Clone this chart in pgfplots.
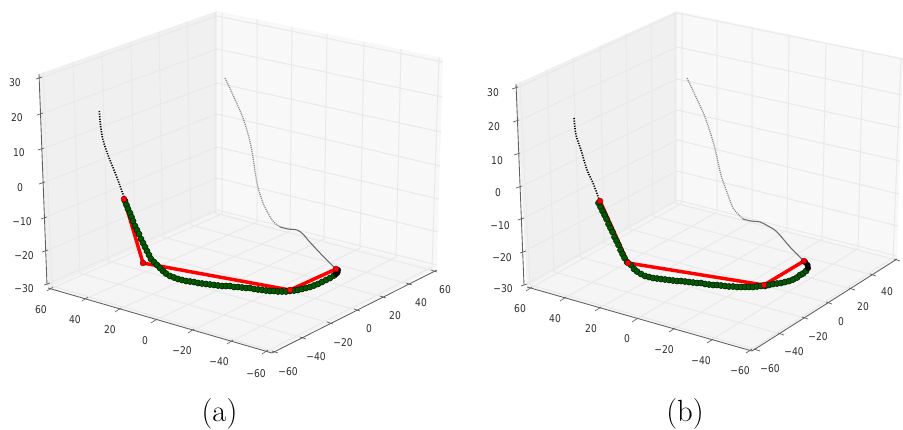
\documentclass[border=0pt]{standalone}
\usepackage{fontspec}
\usepackage{pgfplots}
\pgfplotsset{compat=1.18}
\newfontfamily\tickfont[FakeStretch=0.86]{DejaVu Sans}
\definecolor{paneL}{HTML}{F0F0F0}
\definecolor{paneR}{HTML}{F8F8F8}
\definecolor{paneF}{HTML}{F5F5F5}
\definecolor{gridc}{HTML}{E9E9E9}
\definecolor{axc}{HTML}{606060}
\definecolor{grn}{HTML}{005A00}
\tikzset{
  ticklab/.style={font=\tickfont\fontsize{8}{9}\selectfont,text=black!82,inner sep=0pt,anchor=center},
  subcap/.style={font=\fontsize{23}{26}\selectfont,inner sep=0pt,anchor=center},
}
\pgfplotsset{
  panel/.style={at={(0,0)},anchor=south west,scale only axis,width=677.25pt,height=321.75pt,
    xmin=0,xmax=903,ymin=0,ymax=429,y dir=reverse,axis lines=none,clip=false,unbounded coords=jump,
    every axis plot/.append style={no markers}},
  pane/.style={draw=none,forget plot},
  gl/.style={gridc,line width=0.75pt},
  axl/.style={axc,line width=0.65pt},
  tk/.style={axc,line width=0.5pt},
  grayd/.style={black!45,line width=0.95pt,dash pattern=on 0.8pt off 0.7pt,smooth},
  grays/.style={black!58,line width=0.8pt,smooth},
  blackd/.style={black,line width=1.2pt,dash pattern=on 0.9pt off 1pt,smooth},
  gm/.style={only marks,mark=*,mark size=2.3pt,mark options={fill=grn,draw=black!75!grn,line width=0.35pt}},
  km/.style={only marks,mark=*,mark size=2.1pt,mark options={fill=black!85!grn,draw=black,line width=0.3pt}},
  redl/.style={red,line width=2.6pt},
  redm/.style={only marks,mark=*,mark size=2.2pt,mark options={fill=red,draw=black!60!red,line width=0.3pt}},
}
\begin{document}
\begin{tikzpicture}
\useasboundingbox (0,0) rectangle (677.25pt,321.75pt);
% ---------------- panel (a)
\begin{axis}[panel]
\addplot[pane,fill=paneL] coordinates {(39,74) (217,11) (217,212) (48,288)} --cycle;
\addplot[pane,fill=paneR] coordinates {(217,11) (443,58) (437,268) (217,212)} --cycle;
\addplot[pane,fill=paneF] coordinates {(48,288) (217,212) (437,268) (272,353)} --cycle;
% left pane grid
\addplot[gl] coordinates {(43,72) (52,286) (nan,nan) (73,62) (80,273) (nan,nan) (102,52) (108,261) (nan,nan) (131,42) (135,250) (nan,nan) (159,32) (163,237) (nan,nan) (187,22) (191,225) (nan,nan) (215,12) (215,213)
 (nan,nan) (40,78) (217,16) (nan,nan) (41,114) (217,49) (nan,nan) (42,149) (217,83) (nan,nan) (43,183) (217,114) (nan,nan) (44,218) (217,147) (nan,nan) (46,251) (217,178) (nan,nan) (47,284) (217,210)};
% right pane grid
\addplot[gl] coordinates {(222,12) (222,214) (nan,nan) (257,19) (257,222) (nan,nan) (292,27) (290,231) (nan,nan) (327,34) (324,239) (nan,nan) (364,42) (360,248) (nan,nan) (401,49) (396,257) (nan,nan) (439,57) (432,267)
 (nan,nan) (217,16) (443,62) (nan,nan) (217,49) (442,97) (nan,nan) (217,83) (441,132) (nan,nan) (217,114) (440,166) (nan,nan) (217,147) (439,199) (nan,nan) (217,178) (438,232) (nan,nan) (217,210) (437,265)};
% floor grid
\addplot[gl] coordinates {(50,289) (222,214) (nan,nan) (85,299) (257,222) (nan,nan) (118,310) (290,231) (nan,nan) (154,321) (324,239) (nan,nan) (191,331) (360,248) (nan,nan) (230,342) (396,257) (nan,nan) (265,352) (432,267)
 (nan,nan) (275,352) (52,286) (nan,nan) (303,338) (80,273) (nan,nan) (330,323) (108,261) (nan,nan) (357,310) (135,250) (nan,nan) (383,297) (163,237) (nan,nan) (409,284) (191,225) (nan,nan) (434,271) (215,213)};
% axes
\addplot[axl] coordinates {(39,74) (47,285) (nan,nan) (48,288) (272,353) (437,270)};
\addplot[tk] coordinates {(36,79) (42,77) (nan,nan) (37,115) (43,113) (nan,nan) (38,150) (44,148) (nan,nan) (39,184) (45,182) (nan,nan) (41,219) (47,217) (nan,nan) (42,252) (48,250) (nan,nan) (44,285) (50,283)
 (nan,nan) (47,291) (53,287) (nan,nan) (82,301) (88,297) (nan,nan) (115,312) (121,308) (nan,nan) (151,323) (157,319) (nan,nan) (188,333) (194,329) (nan,nan) (227,344) (233,340) (nan,nan) (262,354) (268,350)
 (nan,nan) (272,351) (278,353) (nan,nan) (300,337) (306,339) (nan,nan) (327,322) (333,324) (nan,nan) (354,309) (360,311) (nan,nan) (380,296) (386,298) (nan,nan) (406,283) (412,285) (nan,nan) (431,270) (437,272)};
% trajectories
\addplot[grayd] coordinates {(225,78) (232,93) (243,118) (251,146) (257,183) (263,203) (268,213) (272,220) (276,224) (280,227)};
\addplot[grays] coordinates {(280,227) (288,229) (297,230) (303,234) (308,240) (320,253) (336,269)};
\addplot[blackd] coordinates {(99.3,111) (100.5,125) (103,140) (108,155) (114,170) (119,183) (124,197)};
\addplot[gm] coordinates {(125,201) (126.5,205) (128,209) (130,213) (131.5,217) (133,221) (135,226) (137,230) (139,234) (141,239) (143,243) (145,247) (147,251) (149,255) (151,259) (154,262) (157,265) (160,268) (163,271) (166,273.5) (170,276) (174,277.5) (178,279) (182,280) (186,281) (190,281.5) (194,282) (198,283) (202,283.5) (206,284) (210,284.5) (214,285) (218,285.5) (222,286) (226,286) (230,286) (234,287) (238,287) (242,287.5) (246,288) (250,288) (254,289) (258,289.5) (262,290) (266,290.5) (270,291) (274,291) (278,291.5) (282,291.5) (286,291.5) (290,291) (294,290.5) (298,290) (302,289) (306,288) (310,287) (314,285.5) (318,284) (322,282) (326,280) (330,278) (334,275.5)};
\addplot[km] coordinates {(336,274) (337.5,272.5) (338,270)};
\addplot[redl] coordinates {(124,199) (143,263) (290,290) (336,269)};
\addplot[redm] coordinates {(124,199) (143,263) (290,290) (336,269)};
% tick labels
\node[ticklab] at (axis cs:15,83) {30};
\node[ticklab] at (axis cs:17,118) {20};
\node[ticklab] at (axis cs:19,153) {10};
\node[ticklab] at (axis cs:20,188) {0};
\node[ticklab] at (axis cs:22,222) {−10};
\node[ticklab] at (axis cs:24,256) {−20};
\node[ticklab] at (axis cs:24,289) {−30};
\node[ticklab] at (axis cs:41,310) {60};
\node[ticklab] at (axis cs:75,320) {40};
\node[ticklab] at (axis cs:110,330) {20};
\node[ticklab] at (axis cs:145,341) {0};
\node[ticklab] at (axis cs:182,351) {−20};
\node[ticklab] at (axis cs:219,362) {−40};
\node[ticklab] at (axis cs:256,374) {−60};
\node[ticklab] at (axis cs:288,372) {−60};
\node[ticklab] at (axis cs:316,357) {−40};
\node[ticklab] at (axis cs:343,343) {−20};
\node[ticklab] at (axis cs:369,329) {0};
\node[ticklab] at (axis cs:395,316) {20};
\node[ticklab] at (axis cs:421,303) {40};
\node[ticklab] at (axis cs:445,290) {60};
\node[subcap] at (axis cs:219.5,414) {(a)};
\end{axis}
% ---------------- panel (b)
\begin{axis}[panel]
\addplot[pane,fill=paneL] coordinates {(516,84) (677,11) (677,202) (527,287)} --cycle;
\addplot[pane,fill=paneR] coordinates {(677,11) (903,58) (897,259) (677,202)} --cycle;
\addplot[pane,fill=paneF] coordinates {(527,287) (677,202) (897,259) (752,351)} --cycle;
% left pane grid
\addplot[gl] coordinates {(520,82) (530,285) (nan,nan) (547,70) (554,272) (nan,nan) (573,58) (580,257) (nan,nan) (600,46) (604,243) (nan,nan) (626,34) (629,229) (nan,nan) (651,23) (653,216) (nan,nan) (675,12) (675,203)
 (nan,nan) (517,88) (677,13) (nan,nan) (518,121) (677,47) (nan,nan) (519,154) (677,79) (nan,nan) (520,187) (677,110) (nan,nan) (522,219) (677,140) (nan,nan) (523,252) (677,171) (nan,nan) (525,285) (677,200)};
% right pane grid
\addplot[gl] coordinates {(682,12) (682,203) (nan,nan) (717,19) (717,212) (nan,nan) (752,27) (752,221) (nan,nan) (789,35) (787,230) (nan,nan) (826,43) (822,239) (nan,nan) (863,50) (858,248.5) (nan,nan) (901,58) (893,258)
 (nan,nan) (677,13) (903,59) (nan,nan) (677,47) (902,95) (nan,nan) (677,79) (901,128) (nan,nan) (677,110) (900,161) (nan,nan) (677,140) (899,194) (nan,nan) (677,171) (898,226) (nan,nan) (677,200) (897,256)};
% floor grid
\addplot[gl] coordinates {(529,289) (682,203) (nan,nan) (563,299) (717,212) (nan,nan) (598,309) (752,221) (nan,nan) (635,320) (787,230) (nan,nan) (672,330) (822,239) (nan,nan) (710,341) (858,248.5) (nan,nan) (749,351) (893,258)
 (nan,nan) (757,350) (530,285) (nan,nan) (781,334) (554,272) (nan,nan) (805,318) (580,257) (nan,nan) (829,303) (604,243) (nan,nan) (852,289) (629,229) (nan,nan) (873,275) (653,216) (nan,nan) (897,260) (675,203)};
% axes
\addplot[axl] coordinates {(516,84) (524,285) (nan,nan) (527,287) (752,351) (897,259)};
\addplot[tk] coordinates {(512,89) (518,87) (nan,nan) (513,122) (519,120) (nan,nan) (514,155) (520,153) (nan,nan) (516,188) (522,186) (nan,nan) (518,220) (524,218) (nan,nan) (520,253) (526,251) (nan,nan) (521,286) (527,284)
 (nan,nan) (526,291) (532,287) (nan,nan) (560,301) (566,297) (nan,nan) (595,311) (601,307) (nan,nan) (632,322) (638,318) (nan,nan) (669,332) (675,328) (nan,nan) (707,343) (713,339) (nan,nan) (746,353) (752,349)
 (nan,nan) (754,349) (760,351) (nan,nan) (778,333) (784,335) (nan,nan) (802,317) (808,319) (nan,nan) (826,302) (832,304) (nan,nan) (849,288) (855,290) (nan,nan) (870,274) (876,276) (nan,nan) (894,259) (900,261)};
% trajectories
\addplot[grayd] coordinates {(687,78) (695,95) (705,117) (714,145) (721,175) (728,195) (733,208) (738,214) (743,219)};
\addplot[grays] coordinates {(743,219) (751,221) (760,222) (768,226) (777,232) (790,247) (804,261)};
\addplot[blackd] coordinates {(574,118) (576,135) (581,150) (587,170) (593,183) (599,199)};
\addplot[gm] coordinates {(598.5,203) (600.5,207) (602.5,211) (604.5,215) (606.5,219) (608.5,224) (610.5,228) (612.5,232) (614.5,237) (616.5,241) (618.5,245) (620.5,250) (622.5,254) (624.5,258) (627,262) (631,265) (634,269) (637,271.5) (641,274) (645,276) (649,277) (653,278) (657,278.5) (661,279) (665,279.5) (669,280) (673,280.5) (677,281) (681,281) (685,281.5) (689,282) (693,282.5) (697,283) (701,283) (705,284) (709,284.5) (713,285) (717,285) (721,285.5) (725,286) (729,286.5) (733,286.5) (737,287) (741,287) (745,287) (749,287) (753,287) (757,286.5) (761,286) (765,286) (769,285) (773,284) (777,283.5) (781,283) (785,282) (789,281) (793,279.5) (797,277.5) (800,275) (803,273.5) (806,271)};
\addplot[km] coordinates {(808,268) (807.5,265) (805,262)};
\addplot[redl] coordinates {(600,201) (628,263) (764,285) (804,261)};
\addplot[redm] coordinates {(600,201) (628,263) (764,285) (804,261)};
% tick labels
\node[ticklab] at (axis cs:493,93) {30};
\node[ticklab] at (axis cs:494,127) {20};
\node[ticklab] at (axis cs:497,161) {10};
\node[ticklab] at (axis cs:498,193) {0};
\node[ticklab] at (axis cs:500,226) {−10};
\node[ticklab] at (axis cs:502,258) {−20};
\node[ticklab] at (axis cs:503,289) {−30};
\node[ticklab] at (axis cs:520,309) {60};
\node[ticklab] at (axis cs:555,319) {40};
\node[ticklab] at (axis cs:591,329) {20};
\node[ticklab] at (axis cs:627,339) {0};
\node[ticklab] at (axis cs:664,350) {−20};
\node[ticklab] at (axis cs:701,361) {−40};
\node[ticklab] at (axis cs:740,371) {−60};
\node[ticklab] at (axis cs:770,369) {−60};
\node[ticklab] at (axis cs:794,352) {−40};
\node[ticklab] at (axis cs:818,337) {−20};
\node[ticklab] at (axis cs:841,322) {0};
\node[ticklab] at (axis cs:863,307) {20};
\node[ticklab] at (axis cs:887,292) {40};
\node[ticklab] at (axis cs:909,277) {60};
\node[subcap] at (axis cs:685,414) {(b)};
\end{axis}
\end{tikzpicture}
\end{document}
